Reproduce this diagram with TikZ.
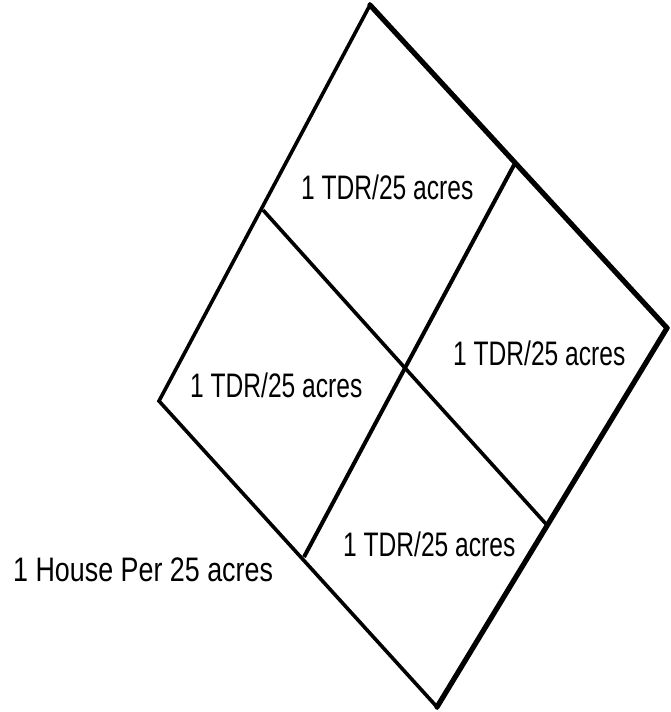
\documentclass[tikz,border=0pt]{standalone}
\usepackage{fontspec}
\setmainfont{Liberation Sans}
\begin{document}
\begin{tikzpicture}[x=1pt,y=-1pt,
  edge/.style={line width=3.6pt,line join=miter},
  thickedge/.style={line width=5.2pt,line cap=round},
  lbl/.style={inner sep=0pt,anchor=base west,font=\fontsize{34}{37}\selectfont}]
\fill[white] (0,0) rectangle (670,712);
\useasboundingbox (0,0) rectangle (670,712);
\coordinate (T) at (370,5);
\coordinate (R) at (667,328);
\coordinate (B) at (437,707);
\coordinate (L) at (159,401);
\coordinate (UL) at (263,210);
\coordinate (UR) at (514,165);
\coordinate (LR) at (546,524);
\coordinate (LL) at (304,557);
\coordinate (C) at (405,368);
\draw[edge] (T) -- (R) -- (B) -- (L) -- cycle;
\draw[thickedge] (T) -- (R);
\draw[thickedge] (R) -- (B);
\draw[edge] (UL) -- (C) -- (LR);
\draw[edge,line width=4pt] (UR) -- (C) -- (LL);
\node[lbl] (t1) at (301,199) {\scalebox{0.723}[1]{1 TDR/25 acres}};
\node[lbl] (t2) at (453,365) {\scalebox{0.723}[1]{1 TDR/25 acres}};
\node[lbl] (t3) at (190,397) {\scalebox{0.723}[1]{1 TDR/25 acres}};
\node[lbl] (t4) at (343,556) {\scalebox{0.723}[1]{1 TDR/25 acres}};
\node[lbl] (h) at (13,581) {\scalebox{0.79}[1]{1 House Per 25 acres}};
\end{tikzpicture}
\end{document}
